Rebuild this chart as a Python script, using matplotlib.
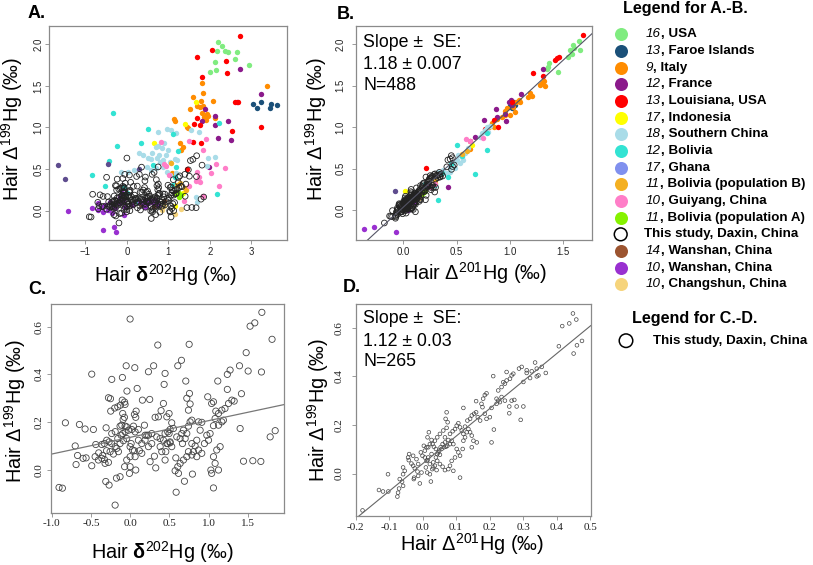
import matplotlib
matplotlib.use('Agg')
import matplotlib.pyplot as plt

plt.rcParams['font.family'] = ['Liberation Sans', 'DejaVu Sans']
plt.rcParams['mathtext.fontset'] = 'custom'
plt.rcParams['mathtext.rm'] = 'Liberation Sans'
plt.rcParams['mathtext.it'] = 'Liberation Sans:italic'
plt.rcParams['mathtext.bf'] = 'Liberation Sans:bold'

# ---------------- data: this study (panels C, D, and open circles in A, B) ----------------
study_d202_c199 = [
    (0.0, 0.632), (1.68, 0.66), (1.59, 0.616), (1.53, 0.602), (1.81, 0.547), (0.353, 0.523), (0.753, 0.526), (1.48, 0.491),
    (-0.489, 0.401), (-0.05, 0.436), (0.06, 0.428), (-0.234, 0.379), (-0.098, 0.387), (0.234, 0.411), (0.30, 0.436),
    (0.446, 0.404), (0.434, 0.358), (0.608, 0.436), (0.655, 0.459), (0.71, 0.372),
    (1.395, 0.436), (1.505, 0.414), (1.275, 0.418), (1.24, 0.40), (1.675, 0.41), (1.118, 0.372), (1.24, 0.337), (1.42, 0.319),
    (0.09, 0.341), (-0.04, 0.33), (-0.276, 0.302), (-0.25, 0.298), (-0.196, 0.259), (-0.064, 0.274), (-0.10, 0.292),
    (-0.07, 0.284), (0.157, 0.292), (0.25, 0.295),
    (0.077, 0.246), (0.055, 0.232), (0.072, 0.22), (-0.094, 0.236), (-0.072, 0.22), (-0.089, 0.211), (-0.157, 0.264),
    (-0.123, 0.271), (-0.247, 0.246),
    (-0.306, 0.176), (-0.574, 0.171), (-0.468, 0.169), (-0.646, 0.19), (-0.825, 0.197), (-0.70, 0.10), (-0.438, 0.106),
    (-0.689, 0.022), (-0.6, 0.048), (-0.561, 0.05), (-0.489, 0.017), (-0.67, 0.06),
    (-0.906, -0.074), (-0.863, -0.077), (-0.31, -0.049), (-0.268, -0.064), (-0.191, -0.148), (-0.174, -0.035),
    (-0.128, -0.029), (-0.008, -0.015), (0.072, -0.001), (0.0, 0.013), (-0.07, 0.013),
    (-0.36, 0.106), (-0.327, 0.11), (-0.40, 0.071), (-0.35, 0.06), (-0.30, 0.08), (-0.276, 0.031), (-0.319, 0.027),
    (-0.234, 0.152), (-0.19, 0.16), (-0.128, 0.183), (-0.106, 0.187), (-0.064, 0.183), (-0.043, 0.18),
    (-0.213, 0.066), (-0.17, 0.09), (-0.128, 0.11), (-0.085, 0.122), (-0.043, 0.131), (-0.149, 0.076),
    (0.013, 0.11), (0.043, 0.183), (0.055, 0.08), (0.119, 0.08), (0.149, 0.069),
    (0.183, 0.187), (0.213, 0.145), (0.191, 0.124), (0.234, 0.097), (0.276, 0.11),
    (0.319, 0.22), (0.361, 0.222), (0.395, 0.248), (0.425, 0.278),
    (0.327, 0.008), (0.255, 0.034), (0.31, 0.057), (0.383, 0.097), (0.404, 0.076),
    (0.446, 0.041), (0.455, 0.076), (0.48, 0.11), (0.51, 0.117), (0.497, 0.152), (0.553, 0.173), (0.531, 0.197),
    (0.583, 0.05), (0.574, -0.004), (0.608, 0.013), (0.638, 0.027), (0.617, -0.015), (0.587, -0.094), (0.693, -0.048),
    (0.795, -0.018),
    (0.668, 0.11), (0.702, 0.131), (0.723, 0.152), (0.744, 0.183), (0.765, 0.201), (0.787, 0.208),
    (0.744, 0.25), (0.765, 0.276), (0.723, 0.30), (0.757, 0.32),
    (0.787, 0.062), (0.808, 0.076), (0.829, 0.10), (0.787, 0.11), (0.85, 0.124), (0.893, 0.166), (0.914, 0.199), (0.872, 0.201),
    (0.872, 0.083), (0.914, 0.069), (0.948, 0.11), (0.978, 0.145), (1.0, 0.124), (1.02, 0.152),
    (0.99, 0.306), (1.04, 0.278), (1.063, 0.285), (1.093, 0.246), (1.084, 0.215),
    (1.03, -0.001), (1.04, -0.015), (1.063, -0.076), (1.127, -0.001), (1.084, 0.027), (1.063, 0.055), (1.105, 0.083), (1.148, 0.097),
    (1.063, 0.185), (1.127, 0.187), (1.17, 0.201), (1.19, 0.208),
    (1.127, 0.236), (1.17, 0.25), (1.21, 0.257), (1.255, 0.278), (1.297, 0.292), (1.327, 0.288),
    (1.403, 0.173), (1.446, 0.036), (1.565, 0.038), (1.667, 0.035), (1.786, 0.138), (1.85, 0.164),
    (-0.157, 0.131), (-0.115, 0.145), (-0.094, 0.152), (-0.064, 0.159), (-0.021, 0.166), (0.021, 0.169), (0.064, 0.159), (0.106, 0.169),
    (-0.298, 0.124), (-0.268, 0.117), (-0.234, 0.11), (-0.191, 0.097), (-0.255, 0.076),
    (-0.36, 0.048), (-0.327, 0.043), (-0.446, 0.055), (-0.404, 0.041),
    (0.0, 0.097), (0.03, 0.083), (0.064, 0.055), (0.0, 0.055), (-0.043, 0.041),
    (0.106, 0.124), (0.149, 0.11), (0.191, 0.145), (0.234, 0.145), (0.276, 0.152),
    (0.34, 0.138), (0.383, 0.131), (0.425, 0.124), (0.468, 0.11), (0.51, 0.113), (0.531, 0.097),
    (0.446, 0.152), (0.48, 0.159), (0.51, 0.169), (0.595, 0.138), (0.638, 0.131), (0.659, 0.152), (0.68, 0.166),
    (0.85, 0.055), (0.744, 0.076), (0.723, 0.055), (0.68, 0.041),
    (0.468, 0.222), (0.497, 0.236),
]

study_c201_c199 = [
    (-0.179, -0.152), (-0.13, -0.068), (-0.118, -0.074), (-0.102, -0.074), (-0.103, -0.003),
    (-0.075, -0.095), (-0.073, -0.079), (-0.07, -0.062), (-0.058, -0.051), (-0.061, -0.034), (-0.068, -0.023),
    (-0.058, -0.003), (-0.053, 0.011), (-0.058, 0.025),
    (-0.041, 0.055), (-0.033, 0.041), (-0.028, 0.032), (-0.023, 0.021), (-0.015, 0.008),
    (-0.025, -0.017), (-0.026, -0.023), (-0.013, -0.01), (-0.003, 0.004), (-0.008, -0.041), (0.025, -0.033),
    (0.0, 0.073), (-0.005, 0.087), (0.007, 0.094), (0.017, 0.108), (0.022, 0.121), (0.015, 0.149), (0.019, 0.17),
    (0.012, 0.052), (0.017, 0.066), (0.01, 0.025), (0.014, 0.004), (0.022, -0.003), (0.029, 0.018), (0.037, 0.032), (0.032, 0.046),
    (0.04, 0.066), (0.044, 0.08), (0.05, 0.094), (0.054, 0.108), (0.06, 0.121), (0.064, 0.108), (0.07, 0.11), (0.074, 0.114),
    (0.037, 0.135), (0.044, 0.149), (0.052, 0.163), (0.062, 0.177), (0.072, 0.188), (0.027, 0.138), (0.03, 0.121),
    (0.044, 0.052), (0.052, 0.039), (0.06, 0.028), (0.067, 0.014), (0.077, 0.018), (0.082, 0.032), (0.092, 0.011), (0.112, -0.017),
    (0.072, 0.252), (0.069, 0.225), (0.075, 0.211),
    (0.082, 0.163), (0.09, 0.174), (0.097, 0.183), (0.102, 0.197), (0.107, 0.207), (0.112, 0.19), (0.117, 0.177),
    (0.122, 0.163), (0.127, 0.149), (0.132, 0.17),
    (0.087, 0.135), (0.092, 0.121), (0.102, 0.101), (0.107, 0.087), (0.097, 0.066), (0.087, 0.052), (0.112, 0.073), (0.12, 0.101),
    (0.122, 0.27), (0.134, 0.218), (0.142, 0.225), (0.147, 0.239), (0.154, 0.246), (0.16, 0.252), (0.165, 0.232), (0.172, 0.218),
    (0.127, 0.193), (0.137, 0.183), (0.142, 0.17), (0.147, 0.156), (0.152, 0.135), (0.162, 0.128), (0.147, 0.108), (0.122, 0.135),
    (0.16, 0.298), (0.181, 0.308), (0.186, 0.323), (0.191, 0.33), (0.176, 0.287), (0.179, 0.273), (0.186, 0.246),
    (0.191, 0.225), (0.201, 0.232), (0.206, 0.27),
    (0.213, 0.181), (0.206, 0.128),
    (0.211, 0.401), (0.226, 0.342), (0.236, 0.356), (0.246, 0.37), (0.251, 0.383), (0.261, 0.39), (0.266, 0.404),
    (0.271, 0.411), (0.251, 0.418), (0.241, 0.376),
    (0.221, 0.308), (0.226, 0.3), (0.231, 0.294), (0.221, 0.287), (0.236, 0.315), (0.246, 0.3), (0.259, 0.276),
    (0.259, 0.248), (0.266, 0.3), (0.274, 0.303),
    (0.281, 0.276), (0.293, 0.221), (0.301, 0.276),
    (0.288, 0.432), (0.296, 0.439), (0.311, 0.425), (0.301, 0.377), (0.311, 0.414), (0.336, 0.457), (0.341, 0.432),
    (0.346, 0.404), (0.356, 0.439), (0.368, 0.414), (0.341, 0.4),
    (0.321, 0.393), (0.326, 0.421),
    (0.407, 0.524), (0.417, 0.607), (0.438, 0.618), (0.449, 0.659), (0.459, 0.634), (0.451, 0.494), (0.461, 0.528), (0.476, 0.546),
    (-0.043, 0.066), (-0.04, 0.08), (-0.028, 0.073), (-0.018, 0.059), (-0.013, 0.039),
    (0.034, 0.11), (0.04, 0.101), (0.047, 0.087), (0.052, 0.077), (0.057, 0.101), (0.067, 0.128), (0.077, 0.138),
    (0.082, 0.121), (0.067, 0.149),
    (0.007, 0.066), (0.015, 0.055), (0.022, 0.039), (0.032, 0.025), (0.042, 0.014),
    (0.012, 0.108), (0.004, 0.114), (0.027, 0.08),
]

# ---------------- data: literature groups, panel A (x = d202Hg, y = D199Hg) ----------------
A_usa = [(2.204, 2.032), (2.3, 1.984), (2.18, 1.924), (2.373, 1.924), (2.445, 1.912), (2.645, 1.912), (2.116, 1.792),
         (2.156, 1.691), (2.012, 1.663), (2.597, 1.824), (2.942, 1.756)]
A_faroe = [(3.03, 1.279), (3.134, 1.234), (3.222, 1.307), (3.439, 1.231), (3.479, 1.283), (3.623, 1.267)]
A_italy = [(3.375, 1.503), (1.812, 1.539), (1.844, 1.411), (1.587, 1.363), (1.796, 1.323), (1.756, 1.251), (1.7, 1.259),
           (1.836, 1.259), (1.523, 1.227), (2.068, 1.319), (2.116, 1.11), (1.9, 1.09), (1.932, 1.159), (1.86, 1.13),
           (1.956, 1.14), (1.13, 1.102), (1.154, 1.082), (1.459, 1.01), (1.475, 0.998), (1.29, 0.814), (1.355, 0.762),
           (1.3, 0.73), (1.8, 1.17), (1.08, 0.45)]
A_france = [(2.733, 1.703), (2.661, 1.311), (3.238, 1.399), (1.884, 1.218), (1.82, 1.082), (2.132, 1.138), (2.116, 1.03),
            (2.437, 1.082), (2.196, 0.87), (2.509, 0.85), (1.972, 0.529)]
A_louisiana = [(2.725, 2.104), (2.06, 1.932), (1.683, 1.844), (2.397, 1.804), (2.421, 1.651), (1.812, 1.611), (2.677, 1.311),
               (2.613, 1.311), (1.683, 1.11), (1.619, 1.038), (1.772, 1.034), (2.533, 0.962), (3.23, 1.01), (1.595, 0.83),
               (1.78, 0.81), (1.45, 0.505)]
A_indonesia = [(1.395, 1.042), (0.657, 0.818), (1.66, 1.31), (1.355, 0.208), (1.2, 0.22), (1.3, 0.2), (1.15, 0.05)]
A_schina = [(0.754, 0.95), (0.954, 0.982), (1.058, 0.97), (1.194, 0.93), (0.898, 0.81), (0.754, 0.778), (0.689, 0.762),
            (0.834, 0.749), (0.393, 0.669), (0.289, 0.689), (0.577, 0.617), (0.737, 0.637), (0.778, 0.669), (0.93, 0.669),
            (0.874, 0.609), (0.794, 0.589), (1.034, 0.581), (1.154, 0.617), (1.21, 0.609), (0.176, 0.489), (0.016, 0.469),
            (-0.144, 0.469), (0.473, 0.529), (0.577, 0.489), (0.713, 0.509), (0.874, 0.529), (0.954, 0.469), (1.034, 0.429),
            (1.178, 0.449), (1.555, 0.97), (1.74, 0.95), (1.956, 0.629), (2.116, 0.649), (1.94, 0.541), (1.66, 0.168),
            (1.691, 0.108), (0.609, 0.689), (0.513, 0.629), (0.994, 0.729)]
A_bolivia = [(-0.329, 1.178), (0.497, 0.978), (1.114, 0.918), (-0.232, 0.782), (-0.425, 0.601), (-0.85, 0.425),
             (-0.529, 0.301), (0.337, 0.818), (1.234, 0.721), (2.212, 1.058), (2.172, 0.204), (-0.072, 0.289), (0.0, 0.21),
             (1.114, 0.309), (1.154, 0.409), (0.633, 0.549), (0.273, 0.108), (1.19, 0.53)]
A_ghana = [(-1.651, 0.545), (-1.491, 0.385), (-0.449, 0.557), (0.297, 0.501)]
A_boliviaB = [(1.058, 0.569), (1.218, 0.309), (1.275, 0.329), (1.435, 0.249), (1.395, 0.269)]
A_guiyang = [(0.826, 0.83), (1.491, 0.842), (1.916, 0.862), (1.836, 0.729), (0.89, 0.561), (0.93, 0.541), (2.148, 0.561),
             (2.373, 0.513), (1.683, 0.469), (1.764, 0.341), (2.036, 0.449), (1.675, 0.361), (1.74, 0.409), (2.212, 0.297),
             (1.379, 0.116), (1.836, 0.18), (1.01, 0.429), (1.5, 0.3)]
A_boliviaA = [(1.194, 0.2), (1.234, 0.228), (1.315, 0.188), (1.25, 0.17)]
A_wanshan14 = [(0.35, 0.08), (0.65, 0.06), (0.9, 0.12)]
A_wanshan10 = [(-1.427, -0.008), (-0.569, -0.228), (-0.313, -0.2), (-0.265, -0.261), (-0.85, 0.028),
               (-0.689, 0.088), (-0.609, 0.048), (-0.529, 0.068), (-0.409, 0.108), (-0.289, 0.028), (-0.168, 0.088),
               (-0.048, 0.048), (0.112, 0.068), (0.313, 0.108), (0.433, 0.128), (0.513, 0.088), (0.593, 0.108),
               (0.673, 0.128), (0.754, 0.068), (0.433, 0.048), (-0.689, 0.008), (-0.569, -0.012), (-0.449, 0.008),
               (-0.369, -0.032), (-0.248, 0.108), (-0.088, 0.128), (-0.329, 0.068), (0.393, 0.088), (0.553, 0.128),
               (-0.112, 0.208), (-0.16, 0.168), (-0.064, -0.052)]
A_changshun = [(0.834, 0.008), (1.154, -0.044), (0.9, 0.05), (1.3, 0.02)]

# ---------------- data: literature groups, panel B (x = D201Hg, y = D199Hg) ----------------
B_usa = [(1.65, 2.044), (1.5875, 1.992), (1.5625, 1.932), (1.547, 1.843), (1.453, 1.671), (1.369, 1.771), (1.35, 1.699),
         (1.58, 1.88), (1.6, 1.95), (1.36, 1.73), (1.66, 1.93)]
B_faroe = [(1.0, 1.257), (1.016, 1.289), (1.031, 1.241), (1.04, 1.3), (1.05, 1.27), (1.02, 1.23)]
B_italy = [(1.297, 1.538), (1.281, 1.51), (1.32, 1.56), (1.33, 1.5), (1.203, 1.378), (1.1875, 1.41), (1.172, 1.361),
           (1.094, 1.309), (1.031, 1.249), (1.047, 1.189), (0.969, 1.229), (1.0, 1.149), (0.953, 1.149), (0.922, 1.128),
           (0.875, 1.096), (0.828, 1.048), (0.85, 1.008), (0.625, 0.735), (1.06, 1.3), (1.08, 1.33), (0.95, 1.2), (0.8, 1.0)]
B_france = [(1.3125, 1.703), (1.1, 1.402), (1.0125, 1.329), (0.994, 1.309), (0.866, 1.221), (0.756, 1.088), (0.672, 0.88),
            (0.416, 0.285), (1.016, 1.269), (0.875, 1.128), (0.95, 1.16), (0.96, 1.08)]
B_louisiana = [(1.6875, 2.112), (1.4625, 1.851), (1.422, 1.811), (1.2125, 1.651), (1.306, 1.622), (0.89, 1.008),
               (0.85, 1.088), (0.766, 0.976), (0.2125, 0.506), (1.02, 1.3), (1.44, 1.83), (0.62, 0.84)]
B_indonesia = [(0.016, 0.233), (0.64, 0.79), (0.3, 0.33), (0.05, 0.1), (0.12, 0.15)]
B_schina = [(0.4375, 0.526), (0.469, 0.566), (0.5, 0.606), (0.516, 0.667), (0.547, 0.647), (0.578, 0.687), (0.609, 0.747),
            (0.734, 0.928), (0.766, 0.968), (0.7875, 1.008), (0.8125, 1.016), (0.4375, 0.466), (0.406, 0.446),
            (0.375, 0.486), (0.344, 0.454), (0.484, 0.506), (0.531, 0.566), (0.5625, 0.606), (0.719, 0.888),
            (0.797, 0.948), (0.328, 0.466)]
B_bolivia = [(0.506, 0.787), (0.781, 0.727), (0.672, 0.434), (0.328, 0.124), (0.42, 0.4), (0.45, 0.56), (0.2, 0.32),
             (0.36, 0.45), (0.55, 0.65), (0.3, 0.3), (0.78, 0.93)]
B_ghana = [(-0.078, 0.237)]
B_boliviaB = [(0.6, 0.72), (0.3, 0.35), (0.55, 0.68)]
B_guiyang = [(0.744, 0.867), (0.584, 0.859), (0.62, 0.84), (0.3, 0.32), (0.24, 0.3), (0.25, 0.28)]
B_boliviaA = [(0.17, 0.2), (0.19, 0.22), (0.2, 0.23)]
B_wanshan14 = [(0.1, 0.1), (0.15, 0.18)]
B_wanshan10 = [(-0.369, -0.229), (-0.281, -0.197), (-0.072, -0.257), (0.0, 0.05), (0.05, 0.1), (0.1, 0.1),
               (0.02, 0.02), (0.08, 0.12), (0.12, 0.18), (0.04, 0.0)]
B_changshun = [(0.15, 0.15)]

# ---------------- legend text and colours ----------------
ref_numbers = ["16", "13", "9", "12", "13", "17", "18", "12", "17", "11", "10", "11", "", "14", "10", "10"]
group_names = ["USA", "Faroe Islands", "Italy", "France", "Louisiana, USA", "Indonesia", "Southern China", "Bolivia",
               "Ghana", "Bolivia (population B)", "Guiyang, China", "Bolivia (population A)", "This study, Daxin, China",
               "Wanshan, China", "Wanshan, China", "Changshun, China"]
group_colors = ["#80EC80", "#1B5079", "#FF8C00", "#8B1A8B", "#FF0000", "#FFFF00", "#A9DCE8", "#33E3D3",
                "#8090EE", "#F4B022", "#FF7EC8", "#86F200", "none", "#9C5430", "#9930D0", "#F6D47C"]
point_colors_ghana = "#5E4C8E"

# regression lines (intercept, slope)
lineB = (0.04, 1.18)
lineC = (0.136, 0.07)
lineD = (0.04, 1.133)

W, H = 813, 565
fig = plt.figure(figsize=(W / 100, H / 100), dpi=100)


def box(l, t, r, b):
    return [l / W, 1 - b / H, (r - l) / W, (b - t) / H]


def style_axes(ax, serif, ypad, xpad, fs):
    for s in ax.spines.values():
        s.set_color('#8a8a8a')
        s.set_linewidth(0.9)
    ax.tick_params(length=3, width=0.6, color='#8a8a8a', labelsize=fs, labelcolor='#222222')
    ax.tick_params(axis='y', pad=ypad)
    ax.tick_params(axis='x', pad=xpad)
    fam = 'Liberation Serif' if serif else 'Liberation Sans'
    for lab in ax.get_xticklabels():
        lab.set_family(fam)
    for lab in ax.get_yticklabels():
        lab.set_family(fam)
        lab.set_rotation(90)
        lab.set_va('center')


A_groups = [A_usa, A_faroe, A_italy, A_france, A_louisiana, A_indonesia, A_schina, A_bolivia, A_ghana, A_boliviaB,
            A_guiyang, A_boliviaA, None, A_wanshan14, A_wanshan10, A_changshun]
B_groups = [B_usa, B_faroe, B_italy, B_france, B_louisiana, B_indonesia, B_schina, B_bolivia, B_ghana, B_boliviaB,
            B_guiyang, B_boliviaA, None, B_wanshan14, B_wanshan10, B_changshun]


def draw_groups(ax, groups, study):
    for i, g in enumerate(groups):
        if g is None:
            continue
        col = point_colors_ghana if i == 8 else group_colors[i]
        ax.scatter([p[0] for p in g], [p[1] for p in g], s=15, c=col, linewidths=0, zorder=2)
    ax.scatter([p[0] for p in study], [p[1] for p in study], s=17, facecolors='none', edgecolors='#222222',
               linewidths=0.6, zorder=3)


# Panel A
axA = fig.add_axes(box(49, 26, 287, 240))
draw_groups(axA, A_groups, study_d202_c199)
axA.set_xlim(-1.876, 3.856)
axA.set_ylim(-0.353, 2.22)
axA.set_xticks([-1, 0, 1, 2, 3])
axA.set_yticks([0, 0.5, 1.0, 1.5, 2.0])
axA.set_yticklabels(['0.0', '0.5', '1.0', '1.5', '2.0'])
style_axes(axA, False, 1.2, 2.0, 6.9)

# Panel B
axB = fig.add_axes(box(355.5, 26, 592.3, 240))
draw_groups(axB, B_groups, study_c201_c199)
axB.axline((0, lineB[0]), slope=lineB[1], color='#555566', lw=0.8, zorder=4)
axB.set_xlim(-0.45, 1.772)
axB.set_ylim(-0.357, 2.22)
axB.set_xticks([0, 0.5, 1.0, 1.5])
axB.set_xticklabels(['0.0', '0.5', '1.0', '1.5'])
axB.set_yticks([0, 0.5, 1.0, 1.5, 2.0])
axB.set_yticklabels(['0.0', '0.5', '1.0', '1.5', '2.0'])
style_axes(axB, False, 4.2, 2.2, 6.9)

# Panel C
axC = fig.add_axes(box(51, 304, 283.5, 512.5))
axC.scatter([p[0] for p in study_d202_c199], [p[1] for p in study_d202_c199], s=20, facecolors='none',
            edgecolors='#444444', linewidths=0.6)
axC.axline((0, lineC[0]), slope=lineC[1], color='#777777', lw=0.9)
axC.set_xlim(-1.0085, 1.956)
axC.set_ylim(-0.179, 0.695)
axC.set_xticks([-1.0, -0.5, 0.0, 0.5, 1.0, 1.5])
axC.set_xticklabels(['-1.0', '-0.5', '0.0', '0.5', '1.0', '1.5'])
axC.set_yticks([0.0, 0.2, 0.4, 0.6])
axC.set_yticklabels(['0.0', '0.2', '0.4', '0.6'])
style_axes(axC, True, 2.0, 2.0, 8)

# Panel D
axD = fig.add_axes(box(355.5, 304, 590.7, 516))
axD.scatter([p[0] for p in study_c201_c199], [p[1] for p in study_c201_c199], s=7, facecolors='none',
            edgecolors='#444444', linewidths=0.5)
axD.axline((0, lineD[0]), slope=lineD[1], color='#666666', lw=0.8)
axD.set_xlim(-0.2, 0.502)
axD.set_ylim(-0.175, 0.698)
axD.set_xticks([-0.2, -0.1, 0.0, 0.1, 0.2, 0.3, 0.4, 0.5])
axD.set_xticklabels(['-0.2', '-0.1', '0.0', '0.1', '0.2', '0.3', '0.4', '0.5'])
axD.set_yticks([0.0, 0.2, 0.4, 0.6])
axD.set_yticklabels(['0.0', '0.2', '0.4', '0.6'])
style_axes(axD, True, 5.5, 2.0, 8)

# overlay for texts and legend
lax = fig.add_axes([0, 0, 1, 1], zorder=10)
lax.set_xlim(0, W)
lax.set_ylim(H, 0)
lax.axis('off')

lab199 = r"Hair $\Delta^{199}$Hg (‰)"
lab202 = r"Hair $\mathbf{\delta}^{202}$Hg (‰)"
lab201 = r"Hair $\Delta^{201}$Hg (‰)"
afs = 14.3
lax.text(12.5, 129, lab199, fontsize=afs, rotation=90, ha='center', va='center')
lax.text(165, 275, lab202, fontsize=afs, ha='center', va='center')
lax.text(316, 129, lab199, fontsize=afs, rotation=90, ha='center', va='center')
lax.text(475, 273.5, lab201, fontsize=afs, ha='center', va='center')
lax.text(15, 411, lab199, fontsize=afs, rotation=90, ha='center', va='center')
lax.text(162, 552, lab202, fontsize=afs, ha='center', va='center')
lax.text(318, 410, lab199, fontsize=afs, rotation=90, ha='center', va='center')
lax.text(472, 544, lab201, fontsize=afs, ha='center', va='center')

pfs = 13
lax.text(28, 13, "A.", fontsize=pfs, fontweight='bold', ha='left', va='center')
lax.text(337, 14.5, "B.", fontsize=pfs, fontweight='bold', ha='left', va='center')
lax.text(28, 290, "C.", fontsize=pfs, fontweight='bold', ha='left', va='center')
lax.text(343, 288, "D.", fontsize=pfs, fontweight='bold', ha='left', va='center')

sfs = 12.8
for (yy, t) in [(42.5, "Slope \u00b1  SE:"), (64.5, "1.18 \u00b1 0.007"), (85.5, "N=488")]:
    lax.text(363, yy, t, fontsize=sfs, ha='left', va='center')
for (yy, t) in [(318.5, "Slope \u00b1  SE:"), (341, "1.12 \u00b1 0.03"), (361.5, "N=265")]:
    lax.text(363, yy, t, fontsize=sfs, ha='left', va='center')

# legend A-B
lax.text(623, 9, "Legend for A.-B.", fontsize=11.6, fontweight='bold', ha='left', va='center')
lfs = 9.6
renderer = fig.canvas.get_renderer()
for i, (num, name, col) in enumerate(zip(ref_numbers, group_names, group_colors)):
    yy = 34.3 + i * 16.67
    if col == 'none':
        lax.scatter([620.7], [yy], s=85, facecolors='none', edgecolors='black', linewidths=1.1)
        lax.text(644, yy, name, fontsize=lfs, fontweight='bold', ha='left', va='center')
    else:
        lax.scatter([620.7], [yy], s=88, c=col, linewidths=0)
        tn = lax.text(645.5, yy, num, fontsize=lfs, fontstyle='italic', ha='left', va='center')
        wpx = tn.get_window_extent(renderer=renderer).width
        lax.text(645.5 + wpx, yy, ", " + name, fontsize=lfs, fontweight='bold', ha='left', va='center')

lax.text(632, 318, "Legend for C.-D.", fontsize=11.6, fontweight='bold', ha='left', va='center')
lax.scatter([626], [340.7], s=95, facecolors='none', edgecolors='black', linewidths=1.1)
lax.text(652.7, 340.7, group_names[12], fontsize=lfs, fontweight='bold', ha='left', va='center')

fig.savefig('out.png', dpi=100)
